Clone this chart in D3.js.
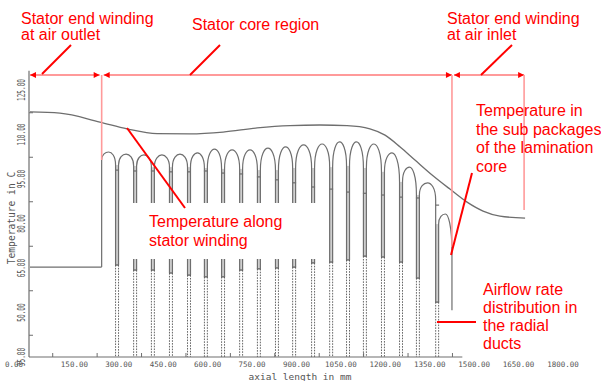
<!DOCTYPE html>
<html><head><meta charset="utf-8">
<script src="https://cdn.jsdelivr.net/npm/d3@7"></script>
<style>body{margin:0;background:#fff}svg{display:block}</style>
</head><body>
<svg id="c" width="601" height="381"></svg>
<script>
// ---------- data ----------
const xTickLabels = [0,150,300,450,600,750,900,1050,1200,1350,1500,1650,1800];
const xMinorTicks = [75,225,375,525,675,825,975,1125,1275,1425];
const yTickLabels = [35,50,65,80,95,110,125];
const yMinorTicks = [42.5,57.5,72.5,87.5,102.5,117.5];

// temperature along stator winding
const windingMM   = [0,101,236,328,429,540,652,767,878,979,1071,1148,1199,1250,1300,1361,1418,1476,1530,1587,1672];
const windingTemp = [117.6,117.2,114.2,111.9,110.3,110.2,110.8,112.2,113.0,113.2,113.0,111.9,109.8,105.8,101.4,96.1,91.6,87.2,84.2,82.5,81.8];

// core region
const coreStartMM = 242, coreEndMM = 1425;
const endWindingTemp = 65.3;
const coreEndFlowTemp = 50.8;

// radial ducts
const ductMM       = [294,355,415,476,537,594,652,713,773,834,892,956,1017,1074,1131,1192,1253,1310,1375];
const ductFlowTemp = [66.0,64.3,64.3,63.3,62.6,62.0,62.0,64.3,64.7,65.0,65.3,66.7,67.0,67.7,69.0,68.7,67.0,61.6,53.5];
const ductMarkTemp = [98.0,97.7,97.7,97.4,97.4,97.7,97.0,96.7,95.7,94.7,93.7,92.3,91.6,90.6,90.2,89.6,88.9,88.6,86.2];

// sub packages of the lamination core
const pkgPeakTemp  = [104.1,103.4,103.1,103.1,103.4,103.8,105.1,104.8,104.8,105.4,105.8,106.5,106.8,107.5,107.5,106.8,103.8,99.0,93.7,83.2];
const pkgLeftTemp  = [101.4,99.7,99.4,99.0,99.0,99.0,98.7,98.4,98.4,98.0,98.0,98.7,98.7,99.0,99.4,98.7,97.4,94.0,89.6,79.8];
const pkgRightTemp = [99.7,99.4,99.0,99.0,99.0,98.7,98.4,98.4,98.0,98.0,98.7,98.7,99.0,99.4,98.7,97.4,94.0,89.6,87.9,70.1];

// ---------- drawing ----------
const svg = d3.select("#c");
const x = d3.scaleLinear().domain([0,1800]).range([30,563]);
const y = d3.scaleLinear().domain([35,125]).range([357,90]);
const fmt = d3.format(".2f");
const grey = "#6e6e6e";
const mono = "DejaVu Sans Mono, monospace";

// axes
svg.append("line").attr("x1",x(0)-1).attr("x2",x(1460)).attr("y1",y(35)).attr("y2",y(35))
  .attr("stroke",grey).attr("stroke-width",1.2);
svg.append("line").attr("x1",x(0)-1).attr("x2",x(0)-1).attr("y1",y(35)).attr("y2",y(131.5))
  .attr("stroke",grey).attr("stroke-width",1.2);

const gx = svg.append("g").attr("transform",`translate(0,${y(35)})`)
  .call(d3.axisBottom(x).tickValues(xMinorTicks).tickSize(-4).tickFormat(""));
gx.select(".domain").remove();
gx.selectAll("line").attr("stroke",grey);

const gy = svg.append("g").attr("transform",`translate(${x(0)-1},0)`)
  .call(d3.axisLeft(y).tickValues(yMinorTicks).tickSize(-4).tickFormat(""));
gy.select(".domain").remove();
gy.selectAll("line").attr("stroke",grey);

svg.append("g").selectAll("text").data(xTickLabels).join("text")
  .attr("x",d=> d===0 ? x(d)-7 : x(d)).attr("y",366.5)
  .attr("text-anchor",d=> d===0 ? "end":"middle")
  .attr("font-family",mono).attr("font-size",7.5).attr("fill","#555")
  .text(d=>fmt(d));

svg.append("g").selectAll("text").data(yTickLabels).join("text")
  .attr("transform",d=>`translate(24.5,${y(d)}) rotate(-90) scale(0.62,1)`)
  .attr("text-anchor","middle")
  .attr("font-family",mono).attr("font-size",9.8).attr("fill","#555")
  .text(d=>fmt(d));

svg.append("text").attr("transform","translate(15,218) rotate(-90)")
  .attr("text-anchor","middle").attr("font-family",mono).attr("font-size",9.6).attr("fill","#555")
  .text("Temperature in C");
svg.append("text").attr("x",300).attr("y",379.5)
  .attr("text-anchor","middle").attr("font-family",mono).attr("font-size",9.5).attr("fill","#555")
  .text("axial length in mm");

// winding curve
const wline = d3.line().x(d=>x(d[0])).y(d=>y(d[1])).curve(d3.curveMonotoneX);
svg.append("path").datum(d3.zip(windingMM,windingTemp)).attr("d",wline)
  .attr("fill","none").attr("stroke",grey).attr("stroke-width",1.3);

// end winding (air outlet) step line
svg.append("path").datum([[0,endWindingTemp],[coreStartMM,endWindingTemp]])
  .attr("d",d3.line().x(d=>x(d[0])).y(d=>y(d[1])))
  .attr("fill","none").attr("stroke",grey).attr("stroke-width",1.2);

const halfDuct = 5;
// duct fills, dotted lines and markers
ductMM.forEach((m,j)=>{
  const xl = m-halfDuct, xr = m+halfDuct;
  const top = Math.min(pkgRightTemp[j], pkgLeftTemp[j+1]);
  svg.append("rect").attr("x",x(xl)).attr("width",x(xr)-x(xl))
    .attr("y",y(top)).attr("height",y(ductFlowTemp[j])-y(top))
    .attr("fill","#d0d0d0");
  [xl,xr].forEach(v=>{
    svg.append("line").attr("x1",x(v)).attr("x2",x(v))
      .attr("y1",y(ductFlowTemp[j])).attr("y2",y(35))
      .attr("stroke","#666").attr("stroke-width",1).attr("stroke-dasharray","1.6,1.2");
  });
  svg.append("line").attr("x1",x(xl)-0.5).attr("x2",x(xr)+0.5)
    .attr("y1",y(ductMarkTemp[j])).attr("y2",y(ductMarkTemp[j]))
    .attr("stroke","#555").attr("stroke-width",1);
  svg.append("line").attr("x1",x(xl)-0.5).attr("x2",x(xr)+0.5)
    .attr("y1",y(ductFlowTemp[j])).attr("y2",y(ductFlowTemp[j]))
    .attr("stroke","#555").attr("stroke-width",1.2);
});

// sub package arches: vertical sides joined by a rounded arch through the peak
pkgPeakTemp.forEach((pk,i)=>{
  const last = pkgPeakTemp.length-1;
  const XL = x(i===0 ? coreStartMM : ductMM[i-1]+halfDuct);
  const XR = x(i===last ? coreEndMM : ductMM[i]-halfDuct);
  const BL = y(i===0 ? endWindingTemp : ductFlowTemp[i-1]);
  const BR = y(i===last ? coreEndFlowTemp : ductFlowTemp[i]);
  const JL = y(pkgLeftTemp[i]), JR = y(pkgRightTemp[i]), P = y(pk);
  const XM = (XL+XR)/2, kv = 0.72, kh = 0.42;
  const p = d3.path();
  p.moveTo(XL,BL); p.lineTo(XL,JL);
  p.bezierCurveTo(XL, JL-kv*(JL-P), XM-kh*(XM-XL), P, XM, P);
  p.bezierCurveTo(XM+kh*(XR-XM), P, XR, JR-kv*(JR-P), XR, JR);
  p.lineTo(XR,BR);
  svg.append("path").attr("d",p.toString())
    .attr("fill","none").attr("stroke",grey).attr("stroke-width",1.2);
});

// ---------- annotations ----------
const red = "#ff0000", pink = "#ff9a9a";
// white label box
svg.append("rect").attr("x",131).attr("y",203).attr("width",191).attr("height",56).attr("fill","#fff");

const arrowY = 75;
const segs = [[x(0),x(coreStartMM)-2],[x(coreStartMM)+2,x(coreEndMM)],[x(coreEndMM)+2,x(windingMM[windingMM.length-1])-1]];
segs.forEach(([a,b])=>{
  svg.append("line").attr("x1",a).attr("x2",b).attr("y1",arrowY).attr("y2",arrowY)
    .attr("stroke",pink).attr("stroke-width",1.8);
  svg.append("path").attr("d",`M${a},${arrowY}L${a+6},${arrowY-3}L${a+6},${arrowY+3}Z`).attr("fill",red);
  svg.append("path").attr("d",`M${b},${arrowY}L${b-6},${arrowY-3}L${b-6},${arrowY+3}Z`).attr("fill",red);
});
[[x(coreStartMM),y(pkgLeftTemp[0])],[x(coreEndMM),247],[x(windingMM[windingMM.length-1])-1,210]].forEach(([vx,vy])=>{
  svg.append("line").attr("x1",vx).attr("x2",vx).attr("y1",arrowY).attr("y2",vy)
    .attr("stroke",pink).attr("stroke-width",1.6);
});

// leader lines
[[42,74,71,45],[190,75,220,45],[481,75,512,45],[127,128,185,208],[472,173,451,255],[437,322,476,322]]
  .forEach(([a,b,c,d])=>svg.append("line").attr("x1",a).attr("y1",b).attr("x2",c).attr("y2",d)
    .attr("stroke",red).attr("stroke-width",2));

const labels = [
  [21,23.5,["Stator end winding","at air outlet"],16],
  [192,30,["Stator core region"],16],
  [447,23.5,["Stator end winding","at air inlet"],16],
  [476,116,["Temperature in","the sub packages","of the lamination","core"],18.7],
  [149,226.5,["Temperature along","stator winding"],19],
  [483,295,["Airflow rate","distribution in","the radial","ducts"],18]
];
labels.forEach(([lx,ly,lines,lh])=>{
  const t = svg.append("text").attr("font-family","Liberation Sans, Arial, sans-serif")
    .attr("font-size",16).attr("fill",red);
  lines.forEach((s,k)=>t.append("tspan").attr("x",lx).attr("y",ly+k*lh).text(s));
});
</script>
</body></html>
